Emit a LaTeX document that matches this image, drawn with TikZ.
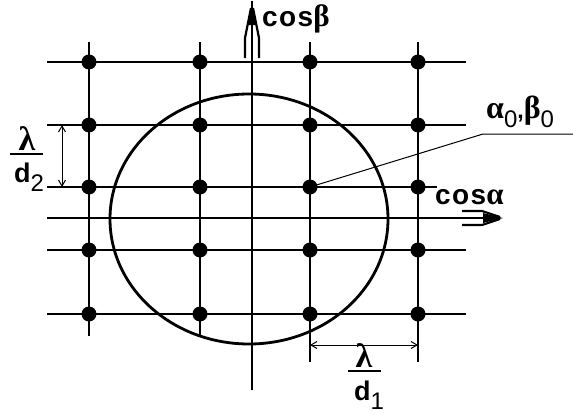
\documentclass[tikz,border=0pt]{standalone}
\usepackage{fontspec}
\setmainfont{Liberation Sans}
\newfontfamily\grk{Liberation Serif}
\usetikzlibrary{arrows.meta,shapes.geometric}
\newcommand\subtxt[1]{\raisebox{-9pt}{\mdseries\fontsize{24}{24}\selectfont #1}}
\begin{document}
\begin{tikzpicture}[x=1pt,y=-1pt,
  grid/.style={line width=1.3pt},
  axis/.style={line width=2.8pt},
  dimline/.style={line width=1pt,{Straight Barb[length=6pt,width=7pt]}-{Straight Barb[length=6pt,width=7pt]}},
  dot/.style={circle,fill=black,inner sep=0pt,minimum size=15pt},
  lbl/.style={inner sep=0pt,font=\bfseries\fontsize{28}{28}\selectfont\addfontfeature{LetterSpace=5}},
  frac/.style={inner sep=0pt,font=\bfseries\fontsize{27}{27}\selectfont}]
\useasboundingbox (0,0) rectangle (573,415);
% grid lines
\foreach \y/\e in {62/466,125/466,187/437,250/466,314/466}
  \draw[grid] (47,\y) -- (\e,\y);
\foreach \x/\e in {89/336,200/336,310/362,418/362}
  \draw[grid] (\x,42) -- (\x,\e);
% circle
\node[draw,line width=2.8pt,ellipse,minimum width=278pt,minimum height=250pt,inner sep=0pt] (circ) at (249,219) {};
% axes
\coordinate (xs) at (47,218); \coordinate (xt) at (503,218);
\coordinate (ys) at (252,390); \coordinate (yt) at (252,5);
\draw[axis] (xs) -- ([xshift=-4pt]xt);
\draw[axis] (ys) -- ([yshift=4pt]yt);
\fill (xt) -- ++(-20,-5) -- ++(0,10) -- cycle;
\draw[line width=2.2pt] (462,211) -- (482,211) -- (500,217);
\draw[line width=2.2pt] (462,225) -- (482,225) -- (500,219);
\fill (yt) -- ++(-5,20) -- ++(10,0) -- cycle;
\draw[line width=2.2pt] (245,58) -- (245,38) -- (251,8);
\draw[line width=2.2pt] (259,58) -- (259,38) -- (253,8);
% dots
\foreach \x [count=\i] in {89,200,310,418}
  \foreach \y [count=\j] in {62,125,187,250,314}
    \node[dot] (d\i\j) at (\x,\y) {};
% axis labels
\node[lbl,anchor=base west] (cb) at (262,27) {cos{\grk\fontsize{31}{31}\selectfont β}};
\node[lbl,anchor=base west] (ca) at (435,204) {cos{\grk\fontsize{31}{31}\selectfont α}};
% alpha0 beta0
\coordinate (lk) at (483,134);
\coordinate (le) at (573,134);
\draw[line width=1pt] (d33.center) -- (lk) -- (le);
\node[inner sep=0pt,anchor=base west,font=\bfseries\fontsize{23}{23}\selectfont] (ab) at (486,118) {{\grk\fontsize{32}{32}\selectfont α}\subtxt{0},{\grk\fontsize{32}{32}\selectfont β}\subtxt{0}};
% dimension d2
\coordinate (v1) at (62,125); \coordinate (v2) at (62,187);
\draw[dimline] (v1) -- (v2);
\node[frac,anchor=base,font=\grk\bfseries\fontsize{34}{34}\selectfont] (l2) at (27,150) {λ};
\draw[line width=1.6pt] (10,154) -- (43,154);
\node[frac,anchor=base] (n2) at (29,182) {d\subtxt{2}};
% dimension d1
\coordinate (h1) at (310,345); \coordinate (h2) at (418,345);
\draw[dimline] (h1) -- (h2);
\node[frac,anchor=base,font=\grk\bfseries\fontsize{34}{34}\selectfont] (l1) at (364,367) {λ};
\draw[line width=1.6pt] (348,371) -- (381,371);
\node[frac,anchor=base] (n1) at (369,400) {d\subtxt{1}};
\end{tikzpicture}
\end{document}
